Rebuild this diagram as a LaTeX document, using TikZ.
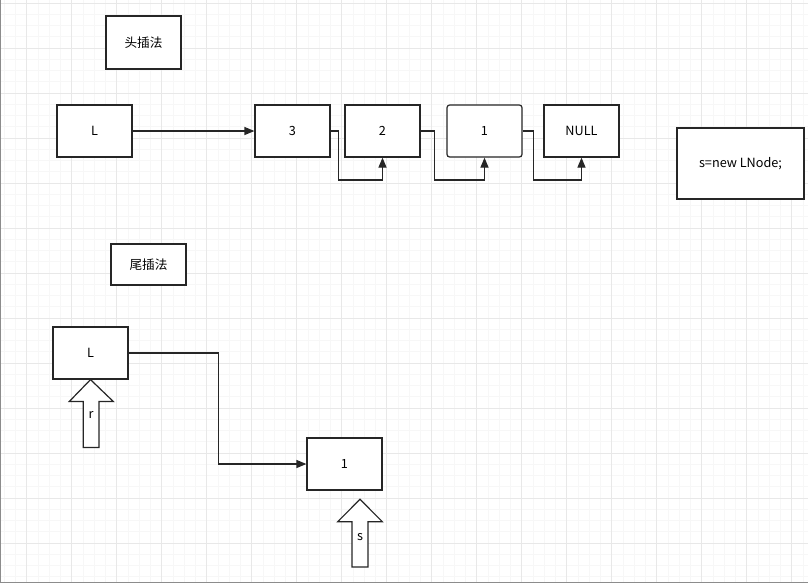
\documentclass[tikz,border=0pt]{standalone}
\usepackage{fontspec}
\setmainfont{Noto Sans CJK SC}
\usetikzlibrary{arrows.meta,positioning}
\tikzset{
  >={Triangle[length=7.5pt,width=6pt]},
  box/.style={draw=black!85, line width=0.9pt, fill=white, minimum width=56.25pt, minimum height=39pt, inner sep=0pt, align=center, font=\fontsize{9.5}{11}\selectfont},
  link/.style={->, line width=0.9pt, draw=black!85},
  ptr/.style={draw=black!85, line width=0.9pt, fill=white},
  minorline/.style={draw=black!3, line width=0.4pt},
  majorline/.style={draw=black!9, line width=0.5pt},
}

\begin{document}
\begin{tikzpicture}[x=0.75pt, y=-0.75pt]
  \useasboundingbox (0,0) rectangle (808,583);
  % grid
  \foreach \gx in {4.2,15.45,...,808} \draw[minorline] (\gx,0) -- (\gx,583);
  \foreach \gy in {3,14.25,...,583} \draw[minorline] (0,\gy) -- (808,\gy);
  \foreach \gx in {26.7,71.7,...,808} \draw[majorline] (\gx,0) -- (\gx,583);
  \foreach \gy in {3,48,...,583} \draw[majorline] (0,\gy) -- (808,\gy);
  \draw[black!45, line width=1pt] (0.5,0) -- (0.5,582.5) -- (808,582.5);

  % head insertion
  \node[box, minimum height=39.75pt] (head) at (143.5,42.5) {头插法};
  \node[box] (L1) at (94.5,131) {L};
  \node[box] (n3) at (292.5,131) {3};
  \node[box] (n2) at (382.5,131) {2};
  \node[box, rounded corners=2pt] (n1) at (484.5,131) {1};
  \node[box] (null) at (581.5,131) {NULL};
  \node[box, minimum width=95.25pt, minimum height=53.25pt] (new) at (740.5,163.5) {s=new LNode;};

  \draw[link] (L1) -- (n3);
  \draw[link] (n3.east) -- ++(8,0) -- ++(0,49) -| (n2.south);
  \draw[link] (n2.east) -- ++(14,0) -- ++(0,49) -| (n1.south);
  \draw[link] (n1.east) -- ++(11,0) -- ++(0,49) -| (null.south);

  % tail insertion
  \node[box, minimum height=30.75pt] (tail) at (148.5,264.5) {尾插法};
  \node[box] (L2) at (90.5,353) {L};
  \node[box] (m1) at (344.5,464) {1};

  \draw[link] (L2.east) -- ++(90,0) |- (m1.west);

  % pointers r and s
  \draw[ptr] (L2.south) -- (113.3,401.5) -- (99,401.5) -- (99,447.5) -- (83.3,447.5) -- (83.3,401.5) -- (69.3,401.5) -- cycle;
  \node[font=\fontsize{9.5}{11}\selectfont] (r) at (91,415) {r};
  \draw[ptr] (360,499.3) -- (382.3,521.7) -- (368,521.7) -- (368,567) -- (352,567) -- (352,521.7) -- (337.7,521.7) -- cycle;
  \node[font=\fontsize{9.5}{11}\selectfont] (s) at (360,537) {s};
\end{tikzpicture}
\end{document}
